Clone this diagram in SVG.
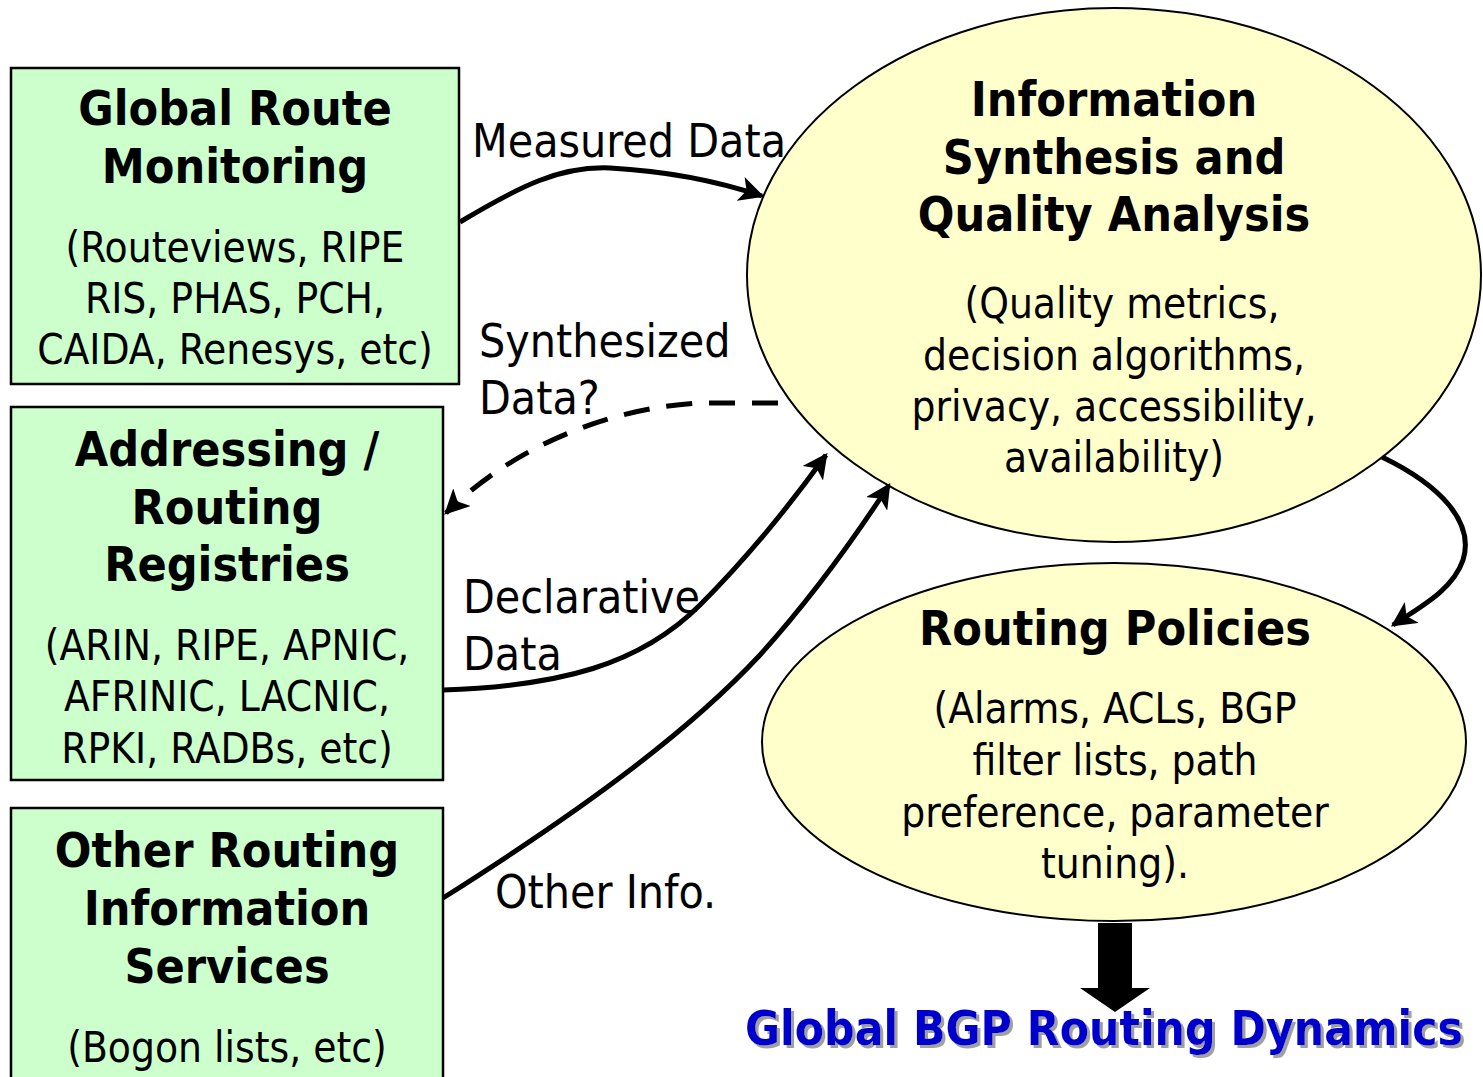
<svg xmlns="http://www.w3.org/2000/svg" width="1483" height="1077" viewBox="0 0 1483 1077">
  <style>
    .box { fill: #CCFFCC; stroke: #000; stroke-width: 2.5; }
    .oval { fill: #FFFFCC; stroke: #000; stroke-width: 2; }
    text { font-family: "DejaVu Sans Condensed", "DejaVu Sans", sans-serif; fill: #000; }
    .title { font-size: 48px; font-weight: bold; text-anchor: middle; }
    .body { font-size: 42px; text-anchor: middle; }
    .label { font-size: 46px; }
    .wire { fill: none; stroke: #000; stroke-width: 5; }
    .dashed { stroke-dasharray: 26 17; }
    .banner { font-size: 47.5px; font-weight: bold; fill: #0000CC; filter: url(#shadow); }
  </style>
  <defs>
    <marker id="arrow" viewBox="0 0 10 10" refX="9" refY="5" markerWidth="5" markerHeight="5" orient="auto" markerUnits="strokeWidth">
      <path d="M0,0 L10,5 L0,10 L2.5,5 Z" fill="#000"/>
    </marker>
    <filter id="shadow" x="-5%" y="-20%" width="110%" height="140%">
      <feDropShadow dx="3" dy="3" stdDeviation="0.6" flood-color="#A0A0A0" flood-opacity="1"/>
    </filter>
  </defs>

  <!-- source boxes -->
  <g id="global-route-monitoring">
    <rect class="box" x="11" y="68" width="448" height="316"/>
    <text class="title" x="235" y="125">Global Route</text>
    <text class="title" x="235" y="183">Monitoring</text>
    <text class="body" x="235" y="262">(Routeviews, RIPE</text>
    <text class="body" x="235" y="313">RIS, PHAS, PCH,</text>
    <text class="body" x="235" y="364">CAIDA, Renesys, etc)</text>
  </g>

  <g id="addressing-registries">
    <rect class="box" x="11" y="407" width="432" height="373"/>
    <text class="title" x="227" y="466">Addressing /</text>
    <text class="title" x="227" y="524">Routing</text>
    <text class="title" x="227" y="581">Registries</text>
    <text class="body" x="227" y="660">(ARIN, RIPE, APNIC,</text>
    <text class="body" x="227" y="711">AFRINIC, LACNIC,</text>
    <text class="body" x="227" y="763">RPKI, RADBs, etc)</text>
  </g>

  <g id="other-routing-info">
    <rect class="box" x="11" y="808" width="432" height="290"/>
    <text class="title" x="227" y="867">Other Routing</text>
    <text class="title" x="227" y="925">Information</text>
    <text class="title" x="227" y="983">Services</text>
    <text class="body" x="227" y="1062">(Bogon lists, etc)</text>
  </g>

  <!-- synthesis and policy ovals -->
  <g id="synthesis">
    <ellipse class="oval" cx="1114" cy="275" rx="367" ry="267"/>
    <text class="title" x="1114" y="116">Information</text>
    <text class="title" x="1114" y="174">Synthesis and</text>
    <text class="title" x="1114" y="231">Quality Analysis</text>
    <text class="body" x="1122" y="318">(Quality metrics,</text>
    <text class="body" x="1114" y="370">decision algorithms,</text>
    <text class="body" x="1114" y="421">privacy, accessibility,</text>
    <text class="body" x="1114" y="472">availability)</text>
  </g>

  <g id="routing-policies">
    <ellipse class="oval" cx="1114" cy="742" rx="352" ry="179"/>
    <text class="title" x="1115" y="645">Routing Policies</text>
    <text class="body" x="1115" y="723">(Alarms, ACLs, BGP</text>
    <text class="body" x="1115" y="775">filter lists, path</text>
    <text class="body" x="1115" y="827">preference, parameter</text>
    <text class="body" x="1115" y="878">tuning).</text>
  </g>

  <!-- connectors -->
  <g id="connectors">
    <path class="wire" d="M460,222 C520,186 560,166 610,168 C665,171 720,182 762,196" marker-end="url(#arrow)"/>
    <path class="wire dashed" d="M778,403 L700,403 C620,407 520,440 446,513" marker-end="url(#arrow)"/>
    <path class="wire" d="M443,690 C560,686 640,665 700,605 C750,555 790,505 826,455" marker-end="url(#arrow)"/>
    <path class="wire" d="M443,898 C590,805 690,730 760,655 C805,605 850,545 889,485" marker-end="url(#arrow)"/>
    <path class="wire" d="M1382,457 C1440,485 1475,522 1463,560 C1453,590 1420,607 1393,625" marker-end="url(#arrow)"/>
    <polygon points="1098,923 1132,923 1132,988 1150,988 1115,1012 1080,988 1098,988" fill="#000"/>
  </g>

  <!-- connector labels -->
  <g id="labels">
    <text class="label" x="472" y="157" font-size="47">Measured Data</text>
    <text class="label" x="479" y="357">Synthesized</text>
    <text class="label" x="479" y="414">Data?</text>
    <text class="label" x="463" y="613">Declarative</text>
    <text class="label" x="463" y="670">Data</text>
    <text class="label" x="495" y="908" font-size="48">Other Info.</text>
  </g>

  <g id="outcome">
    <text class="banner" x="745" y="1045">Global BGP Routing Dynamics</text>
  </g>
</svg>
